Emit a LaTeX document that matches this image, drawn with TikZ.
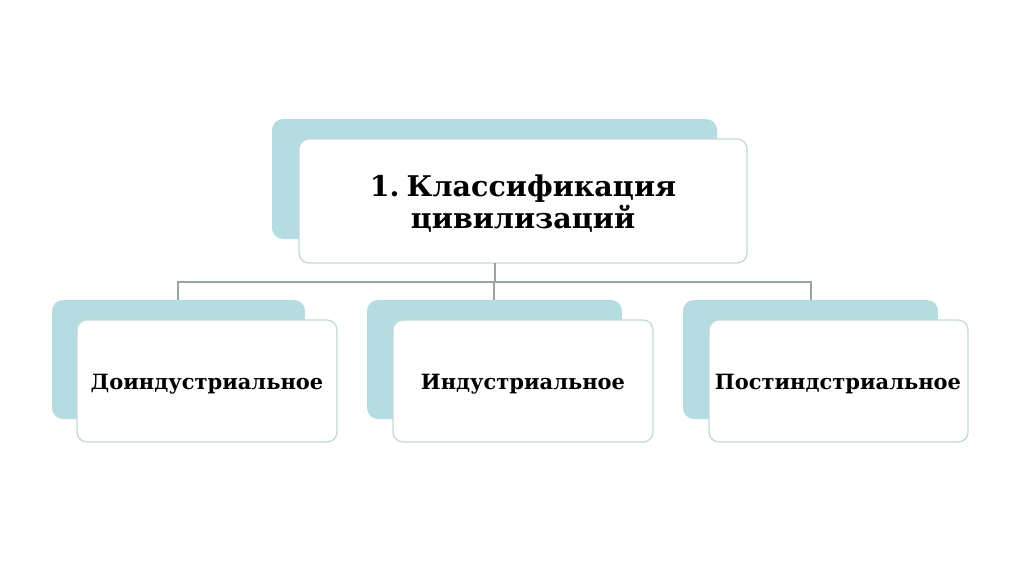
\documentclass[tikz,border=0pt]{standalone}
\usepackage{fontspec}
\setmainfont{DejaVu Serif}
\definecolor{backfill}{HTML}{B5DCE0}
\definecolor{frontline}{HTML}{C3D8DB}
\definecolor{conn}{HTML}{9AA4A7}
\tikzset{
  backbox/.style={fill=backfill, draw=none, rounded corners=11pt},
  frontbox/.style={fill=white, draw=frontline, line width=1.3pt, rounded corners=10pt},
  lbl/.style={align=center, text=black},
  toplbl/.style={lbl, font=\bfseries\fontsize{28.5}{32}\selectfont},
  botlbl/.style={lbl, font=\bfseries\fontsize{21}{24}\selectfont},
  conline/.style={draw=conn, line width=1.2pt}
}
\begin{document}
\begin{tikzpicture}[x=1pt,y=-1pt]
\useasboundingbox (0,0) rectangle (1024,574);
% top
\fill[backbox] (272,119) rectangle (717,239);
\draw[frontbox] (299,139) rectangle (747,263);
\node[toplbl] (top) at (523,204) {1.\hspace{0.25em}Классификация\\цивилизаций};
\coordinate (topb) at (495,263);
% bottom boxes
\fill[backbox] (52,300) rectangle (305,419);
\draw[frontbox] (77,320) rectangle (337,442);
\node[botlbl] (b1) at (207,384) {Доиндустриальное};
\coordinate (b1t) at (178,300);

\fill[backbox] (367,300) rectangle (622,419);
\draw[frontbox] (393,320) rectangle (653,442);
\node[botlbl] (b2) at (523,384) {Индустриальное};
\coordinate (b2t) at (494,300);

\fill[backbox] (683,300) rectangle (938,419);
\draw[frontbox] (709,320) rectangle (968,442);
\node[botlbl] (b3) at (838,384) {Постиндстриальное};
\coordinate (b3t) at (811,300);

\coordinate (hub) at (495,282);
% connectors
\draw[conline] (topb) -- (hub);
\draw[conline] (b1t) |- (hub);
\draw[conline] (b3t) |- (hub);
\draw[conline] (b2t) -- (494,282);
\end{tikzpicture}
\end{document}
